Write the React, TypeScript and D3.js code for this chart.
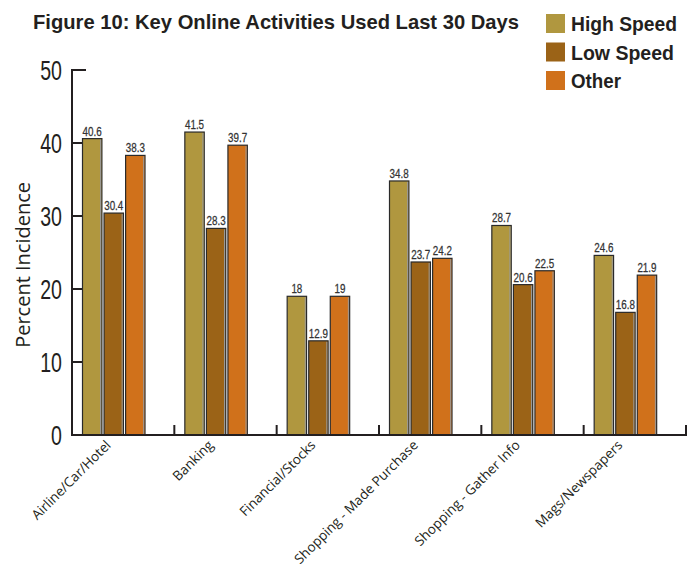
import React from "react";
import * as d3 from "d3";

const categories = [
  "Airline/Car/Hotel",
  "Banking",
  "Financial/Stocks",
  "Shopping - Made Purchase",
  "Shopping - Gather Info",
  "Mags/Newspapers",
];
const seriesNames = ["High Speed", "Low Speed", "Other"];
const highSpeed = [40.6, 41.5, 19, 34.8, 28.7, 24.6];
const highSpeedLabels = ["40.6", "41.5", "18", "34.8", "28.7", "24.6"];
const lowSpeed = [30.4, 28.3, 12.9, 23.7, 20.6, 16.8];
const lowSpeedLabels = ["30.4", "28.3", "12.9", "23.7", "20.6", "16.8"];
const other = [38.3, 39.7, 19, 24.2, 22.5, 21.9];
const otherLabels = ["38.3", "39.7", "19", "24.2", "22.5", "21.9"];
const yTicks = [0, 10, 20, 30, 40, 50];
const colors = ["#b0973f", "#9b6317", "#d0711b"];

const W = 688;
const H = 569;
const left = 72;
const right = 686;
const top = 70;
const bottom = 435;

const COND = "'Liberation Sans', Arial, sans-serif";
const HUM = "'Open Sans', 'Noto Sans', sans-serif";

export default function App() {
  const x0 = d3.scaleBand<string>().domain(categories).range([left, right]);
  const x1 = d3.scaleBand<string>().domain(seriesNames).range([10.5, 73]).paddingInner(0.1);
  const y = d3.scaleLinear().domain([0, 50]).range([bottom, top]);
  const values = [highSpeed, lowSpeed, other];
  const labels = [highSpeedLabels, lowSpeedLabels, otherLabels];
  const ink = "#231f20";

  return (
    <svg width={W} height={H} style={{ position: "absolute", left: 0, top: 0 }}>
      <rect width={W} height={H} fill="#fff" />
      <text x={33} y={29} fontFamily={COND} fontWeight="bold" fontSize={21} fill={ink}
        textLength={486} lengthAdjust="spacingAndGlyphs">
        Figure 10: Key Online Activities Used Last 30 Days
      </text>
      {seriesNames.map((s, i) => (
        <g key={s} transform={`translate(546, ${14 + i * 28.5})`}>
          <rect width={19} height={19} fill={colors[i]} />
          <text x={25} y={17} fontFamily={COND} fontWeight="bold" fontSize={21} fill={ink}
            textLength={[106, 103, 50][i]} lengthAdjust="spacingAndGlyphs">
            {s}
          </text>
        </g>
      ))}
      <text transform={`translate(30, ${y(23.3)}) rotate(-90)`} textAnchor="middle"
        fontFamily={HUM} fontSize={20} fill={ink}>
        Percent Incidence
      </text>
      {yTicks.map((t) => (
        <g key={t}>
          <line x1={left} x2={left + (t === 50 ? 14 : 12)} y1={y(t)} y2={y(t)} stroke={ink} strokeWidth={2} />
          <text x={62} y={y(t)} dy="0.36em" textAnchor="end" fontFamily={COND} fontSize={28}
            fill={ink} transform={`translate(62, 0) scale(0.7, 1) translate(-62, 0)`}>
            {t}
          </text>
        </g>
      ))}
      {categories.slice(1).concat(["end"]).map((c, i) => {
        const xx = left + x0.step() * (i + 1);
        return <line key={c} x1={xx} x2={xx} y1={bottom} y2={bottom - 10} stroke={ink} strokeWidth={2} />;
      })}
      {categories.map((c, ci) => (
        <g key={c} transform={`translate(${x0(c)}, 0)`}>
          {seriesNames.map((s, si) => {
            const v = values[si][ci];
            const bx = x1(s)!;
            const bw = x1.bandwidth();
            const cx = bx + bw / 2;
            return (
              <g key={s}>
                <rect x={bx} y={y(v)} width={bw} height={bottom - y(v)} fill={colors[si]}
                  stroke="#2a2a2a" strokeWidth={1.2} />
                <line x1={bx + bw - 1.3} x2={bx + bw - 1.3} y1={y(v) + 1} y2={bottom} stroke="#9a9a9a" strokeWidth={1} />
                <text x={cx} y={y(v) - 3} textAnchor="middle" fontFamily={COND}
                  fontSize={12} fill="#333" stroke="#333" strokeWidth={0.25}
                  transform={`translate(${cx}, 0) scale(0.82, 1) translate(${-cx}, 0)`}>
                  {labels[si][ci]}
                </text>
              </g>
            );
          })}
          <text transform={`translate(${x1("Low Speed")! + x1.bandwidth() / 2 - 2}, ${bottom + 11}) rotate(-45)`}
            textAnchor="end" fontFamily={HUM} fontSize={13.5} fill={ink}>
            {c}
          </text>
        </g>
      ))}
      <line x1={left} x2={left} y1={top - 1} y2={bottom + 1} stroke={ink} strokeWidth={2} />
      <line x1={left - 1} x2={right + 1} y1={bottom} y2={bottom} stroke={ink} strokeWidth={2} />
    </svg>
  );
}
